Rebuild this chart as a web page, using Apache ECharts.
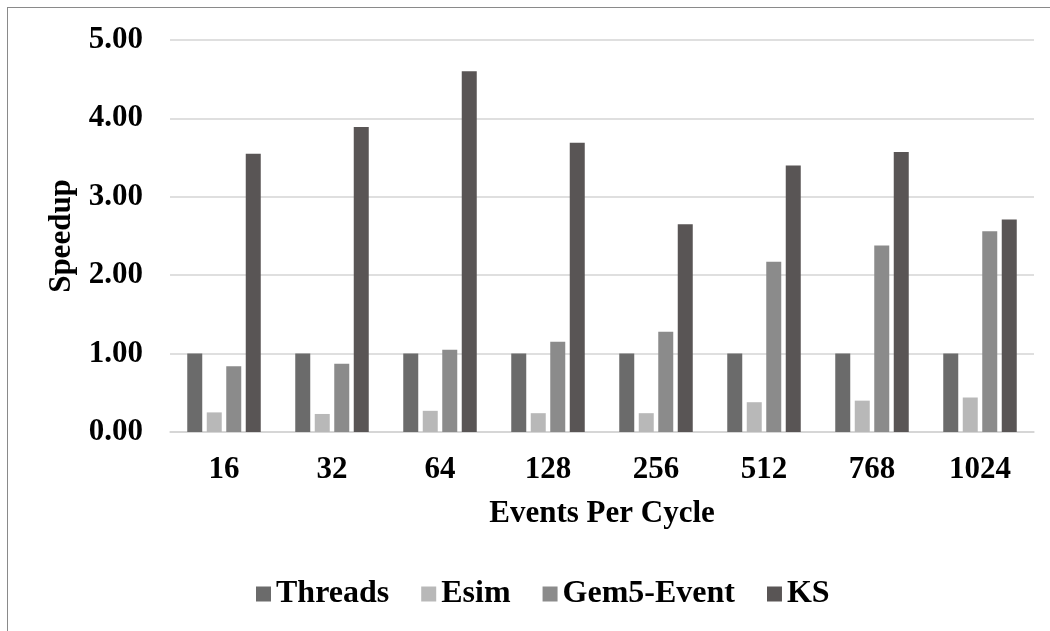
<!DOCTYPE html>
<html>
<head>
<meta charset="utf-8">
<script src="https://cdn.jsdelivr.net/npm/echarts@6/dist/echarts.min.js"></script>
<style>
  html, body { margin: 0; padding: 0; background: #ffffff; overflow: hidden; }
  #frame { position: absolute; left: 7px; top: 7px; width: 1100px; height: 700px; border-left: 1px solid #8a8a8a; border-top: 1px solid #8a8a8a; }
  #chart { position: absolute; left: 0; top: 0; width: 1050px; height: 631px; }
</style>
</head>
<body>
<div id="frame"></div>
<div id="chart"></div>
<script>
const categories = ['16', '32', '64', '128', '256', '512', '768', '1024'];
const threads = [1.00, 1.00, 1.00, 1.00, 1.00, 1.00, 1.00, 1.00];
const esim = [0.25, 0.23, 0.27, 0.24, 0.24, 0.38, 0.40, 0.44];
const gem5Event = [0.84, 0.87, 1.05, 1.15, 1.28, 2.17, 2.38, 2.56];
const ks = [3.55, 3.89, 4.60, 3.69, 2.65, 3.40, 3.57, 2.71];
const seriesNames = ['Threads', 'Esim', 'Gem5-Event', 'KS'];
const seriesColors = ['#6b6b6b', '#b8b8b8', '#8b8b8b', '#595555'];

const font = 'Liberation Serif, Times New Roman, serif';
const chart = echarts.init(document.getElementById('chart'), null, { renderer: 'canvas' });
const data = [threads, esim, gem5Event, ks];

chart.setOption({
  animation: false,
  backgroundColor: 'transparent',
  textStyle: { fontFamily: font },
  grid: { left: 170, right: 16, top: 40, bottom: 199, containLabel: false },
  legend: {
    left: 251,
    top: 573,
    icon: 'rect',
    itemWidth: 15,
    itemHeight: 15,
    itemGap: 32,
    textStyle: { fontFamily: font, fontSize: 32, fontWeight: 'bold', color: '#000' },
    data: seriesNames
  },
  xAxis: {
    type: 'category',
    data: categories,
    name: 'Events Per Cycle',
    nameLocation: 'middle',
    nameGap: 66,
    nameTextStyle: { fontFamily: font, fontSize: 31, fontWeight: 'bold', color: '#000' },
    axisLine: { show: true, lineStyle: { color: '#d4d4d4', width: 1.5 } },
    axisTick: { show: false },
    axisLabel: { margin: 22, fontFamily: font, fontSize: 31, fontWeight: 'bold', color: '#000' }
  },
  yAxis: {
    type: 'value',
    min: 0,
    max: 5,
    interval: 1,
    name: 'Speedup',
    nameLocation: 'middle',
    nameGap: 92,
    nameTextStyle: { fontFamily: font, fontSize: 31, fontWeight: 'bold', color: '#000' },
    axisLine: { show: false },
    axisTick: { show: false },
    axisLabel: { margin: 27, fontFamily: font, fontSize: 31, fontWeight: 'bold', color: '#000',
      formatter: v => v.toFixed(2) },
    splitLine: { show: true, lineStyle: { color: '#d4d4d4', width: 1.5 } }
  },
  series: seriesNames.map((n, i) => ({
    name: n,
    type: 'bar',
    data: data[i],
    barWidth: 15,
    barGap: '30%',
    itemStyle: { color: seriesColors[i] }
  }))
});
</script>
</body>
</html>
